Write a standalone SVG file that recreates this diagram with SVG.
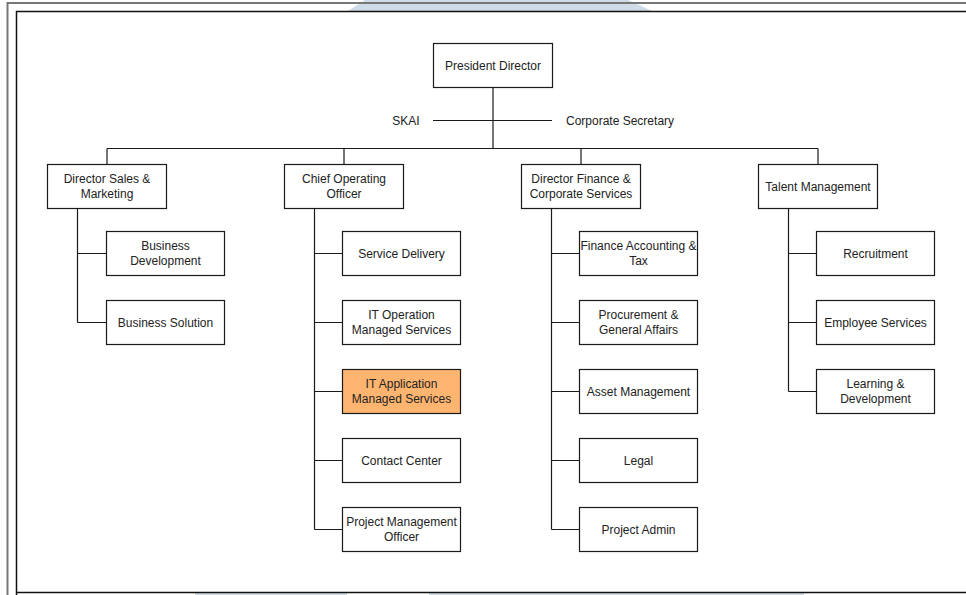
<svg xmlns="http://www.w3.org/2000/svg" width="966" height="595" viewBox="0 0 966 595">
<style>
.box{fill:#fff;stroke:#1a1a1a;stroke-width:1.2}
.hi{fill:#ffb570}
.t{font-family:"Liberation Sans",Arial,sans-serif;font-size:12px;fill:#222;text-anchor:middle}
.c{fill:none;stroke:#1a1a1a;stroke-width:1.2}
</style>
<rect width="966" height="595" fill="#fff"/>
<g id="watermark" fill="#cfdbe6">
<polygon points="365,0 628,0 652,11 348,11"/>
<rect x="195" y="593" width="152" height="2"/>
<rect x="429" y="593" width="375" height="2"/>
</g>
<g id="frame" fill="none">
<path d="M7.5,595 V3 H966" stroke="#777" stroke-width="2"/>
<path d="M16.5,595 V11.5 H966 M16.5,592.5 H966" stroke="#111" stroke-width="1.5"/>
</g>
<g id="connectors" class="c">
<path class="c" d="M493,87.5 V148.5 M107,148.5 H818 M107,148.5 V164.5 M344,148.5 V164.5 M581,148.5 V164.5 M818,148.5 V164.5"/>
<path class="c" d="M433,120.5 H552"/>
<path class="c" d="M77.5,208.5 V322.5 M77.5,253.5 H106.5 M77.5,322.5 H106.5"/>
<path class="c" d="M314.5,208.5 V529.5 M314.5,253.5 H342.5 M314.5,322.5 H342.5 M314.5,391.5 H342.5 M314.5,460.5 H342.5 M314.5,529.5 H342.5"/>
<path class="c" d="M551.5,208.5 V529.5 M551.5,253.5 H579.5 M551.5,322.5 H579.5 M551.5,391.5 H579.5 M551.5,460.5 H579.5 M551.5,529.5 H579.5"/>
<path class="c" d="M788.5,208.5 V391.5 M788.5,253.5 H816.5 M788.5,322.5 H816.5 M788.5,391.5 H816.5"/>
</g>
<g id="skai"><text class="t" x="406" y="124.5">SKAI</text></g>
<g id="corpsec"><text class="t" x="566" y="124.5" style="text-anchor:start">Corporate Secretary</text></g>
<g id="president"><rect class="box" x="433.5" y="43.5" width="119" height="44"/><text class="t" x="493" y="69.5">President Director</text></g>
<g id="dir-sales"><rect class="box" x="47.5" y="164.5" width="119" height="44"/><text class="t" x="107" y="183">Director Sales &amp;</text><text class="t" x="107" y="198">Marketing</text></g>
<g id="coo"><rect class="box" x="284.5" y="164.5" width="119" height="44"/><text class="t" x="344" y="183">Chief Operating</text><text class="t" x="344" y="198">Officer</text></g>
<g id="dir-finance"><rect class="box" x="521.5" y="164.5" width="119" height="44"/><text class="t" x="581" y="183">Director Finance &amp;</text><text class="t" x="581" y="198">Corporate Services</text></g>
<g id="talent"><rect class="box" x="758.5" y="164.5" width="119" height="44"/><text class="t" x="818" y="190.5">Talent Management</text></g>
<g id="bizdev"><rect class="box" x="106.5" y="231.5" width="118" height="44"/><text class="t" x="165.5" y="250">Business</text><text class="t" x="165.5" y="265">Development</text></g>
<g id="bizsol"><rect class="box" x="106.5" y="300.5" width="118" height="44"/><text class="t" x="165.5" y="326.5">Business Solution</text></g>
<g id="svcdel"><rect class="box" x="342.5" y="231.5" width="118" height="44"/><text class="t" x="401.5" y="257.5">Service Delivery</text></g>
<g id="itops"><rect class="box" x="342.5" y="300.5" width="118" height="44"/><text class="t" x="401.5" y="319">IT Operation</text><text class="t" x="401.5" y="334">Managed Services</text></g>
<g id="itapp"><rect class="box hi" x="342.5" y="369.5" width="118" height="44"/><text class="t" x="401.5" y="388">IT Application</text><text class="t" x="401.5" y="403">Managed Services</text></g>
<g id="contact"><rect class="box" x="342.5" y="438.5" width="118" height="44"/><text class="t" x="401.5" y="464.5">Contact Center</text></g>
<g id="pmo"><rect class="box" x="342.5" y="507.5" width="118" height="44"/><text class="t" x="401.5" y="526">Project Management</text><text class="t" x="401.5" y="541">Officer</text></g>
<g id="finacc"><rect class="box" x="579.5" y="231.5" width="118" height="44"/><text class="t" x="638.5" y="250">Finance Accounting &amp;</text><text class="t" x="638.5" y="265">Tax</text></g>
<g id="procure"><rect class="box" x="579.5" y="300.5" width="118" height="44"/><text class="t" x="638.5" y="319">Procurement &amp;</text><text class="t" x="638.5" y="334">General Affairs</text></g>
<g id="asset"><rect class="box" x="579.5" y="369.5" width="118" height="44"/><text class="t" x="638.5" y="395.5">Asset Management</text></g>
<g id="legal"><rect class="box" x="579.5" y="438.5" width="118" height="44"/><text class="t" x="638.5" y="464.5">Legal</text></g>
<g id="projadmin"><rect class="box" x="579.5" y="507.5" width="118" height="44"/><text class="t" x="638.5" y="533.5">Project Admin</text></g>
<g id="recruit"><rect class="box" x="816.5" y="231.5" width="118" height="44"/><text class="t" x="875.5" y="257.5">Recruitment</text></g>
<g id="empsvc"><rect class="box" x="816.5" y="300.5" width="118" height="44"/><text class="t" x="875.5" y="326.5">Employee Services</text></g>
<g id="learning"><rect class="box" x="816.5" y="369.5" width="118" height="44"/><text class="t" x="875.5" y="388">Learning &amp;</text><text class="t" x="875.5" y="403">Development</text></g>
</svg>
